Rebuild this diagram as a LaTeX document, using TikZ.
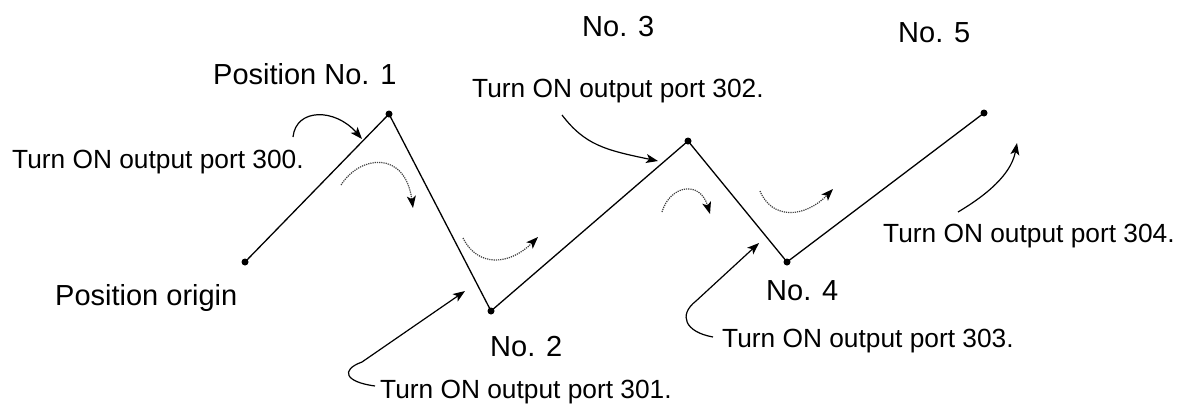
\documentclass[tikz,border=0pt]{standalone}
\usepackage{fontspec}
\setmainfont{Liberation Sans}
\usetikzlibrary{arrows.meta}
\begin{document}
\begin{tikzpicture}[x=1pt,y=-1pt,
  dot/.style={circle,fill=black,inner sep=0pt,minimum size=7pt},
  path/.style={line width=1.3pt},
  callout/.style={line width=1.2pt,-{Stealth[length=12pt,width=9pt,inset=3pt]}},
  motion/.style={line width=1.2pt,densely dotted,black!75,-{Stealth[length=12pt,width=9pt,inset=3pt,black]}},
  lbl/.style={anchor=base west,inner sep=0pt,font=\fontsize{29}{32}\selectfont},
  msg/.style={anchor=base west,inner sep=0pt,font=\fontsize{26.3}{30}\selectfont}]
\useasboundingbox (0,0) rectangle (1181,405);
% positions
\node[dot] (p0) at (245,262) {};
\node[dot] (p1) at (389,114) {};
\node[dot] (p2) at (491,311) {};
\node[dot] (p3) at (688,141) {};
\node[dot] (p4) at (787,262) {};
\node[dot] (p5) at (984,113) {};
\draw[path] (p0.center) -- (p1.center) -- (p2.center) -- (p3.center) -- (p4.center) -- (p5.center);
% labels
\node[lbl] (l1) at (213,84) {Position No. 1};
\node[lbl] (l0) at (55,305) {Position origin};
\node[lbl] (l3) at (582,36) {No. 3};
\node[lbl] (l5) at (898,42) {No. 5};
\node[lbl] (l2) at (490,356) {No. 2};
\node[lbl] (l4) at (766,300) {No. 4};
\node[msg] (m0) at (12,168) {Turn ON output port 300.};
\node[msg] (m2) at (472,97) {Turn ON output port 302.};
\node[msg] (m1) at (380,398) {Turn ON output port 301.};
\node[msg] (m3) at (722,347) {Turn ON output port 303.};
\node[msg] (m4) at (883,242) {Turn ON output port 304.};
% callout arrows
\coordinate (a0s) at (293,137); \coordinate (a0e) at (362,139);
\draw[callout] (a0s) .. controls (296,108) and (335,108) .. (a0e);
\coordinate (a1s) at (375,386); \coordinate (a1e) at (465,291);
\draw[callout] (a1s) .. controls (345,382) and (340,370) .. (362,362) -- (a1e);
\coordinate (a2s) at (562,115); \coordinate (a2e) at (658,161);
\draw[callout] (a2s) .. controls (585,145) and (605,150) .. (a2e);
\coordinate (a3s) at (713,337); \coordinate (a3e) at (759,243);
\draw[callout] (a3s) .. controls (685,332) and (678,315) .. (696,301) -- (a3e);
\coordinate (a4s) at (958,212); \coordinate (a4e) at (1017,143);
\draw[callout] (a4s) .. controls (995,190) and (1012,170) .. (a4e);
% motion arrows
\coordinate (d1s) at (341,185); \coordinate (d1e) at (413,208);
\draw[motion] (d1s) .. controls (360,155) and (405,150) .. (d1e);
\coordinate (d2s) at (463,238); \coordinate (d2e) at (538,237);
\draw[motion] (d2s) .. controls (478,268) and (510,265) .. (d2e);
\coordinate (d3s) at (662,212); \coordinate (d3e) at (710,214);
\draw[motion] (d3s) .. controls (670,185) and (700,180) .. (d3e);
\coordinate (d4s) at (760,191); \coordinate (d4e) at (833,189);
\draw[motion] (d4s) .. controls (772,220) and (805,218) .. (d4e);
\end{tikzpicture}
\end{document}
